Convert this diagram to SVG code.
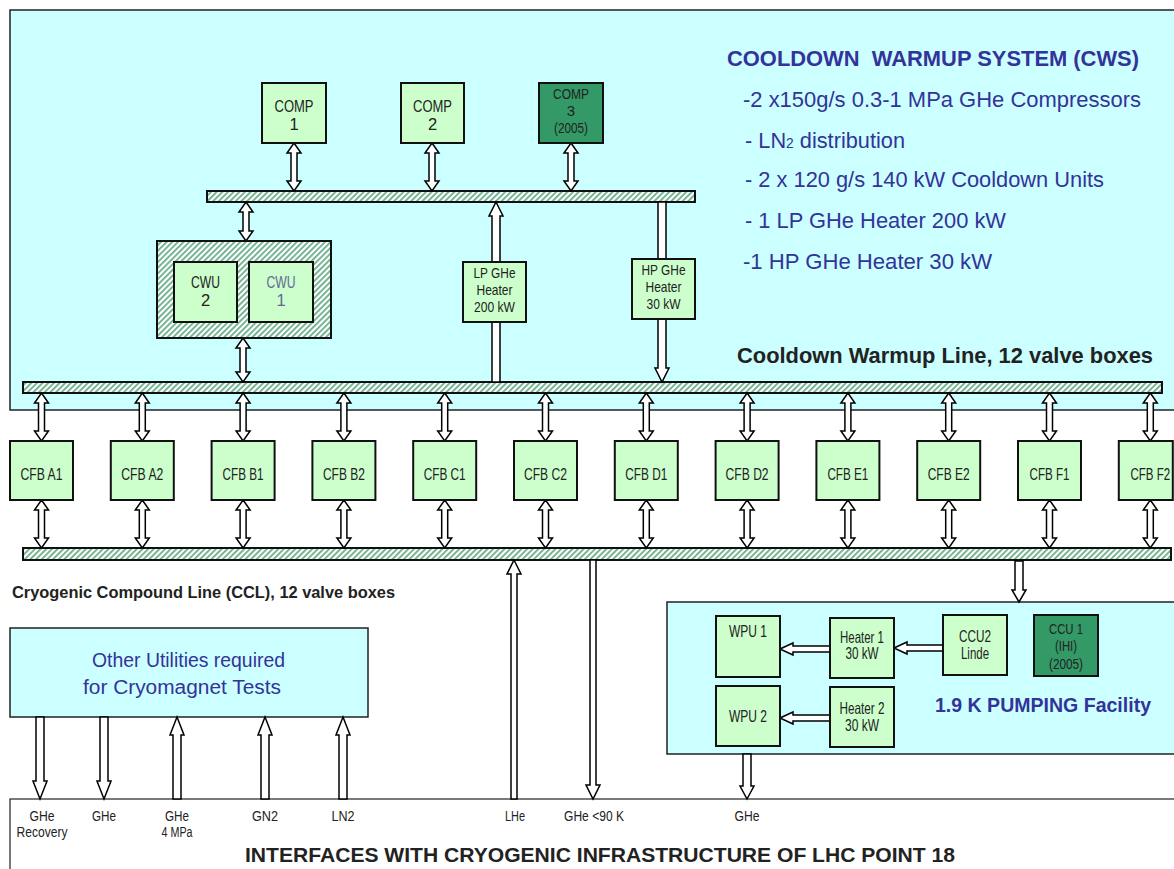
<svg xmlns="http://www.w3.org/2000/svg" xmlns:xlink="http://www.w3.org/1999/xlink" width="1174" height="869" viewBox="0 0 1174 869">
<style>
text{font-family:"Liberation Sans",Arial,sans-serif;fill:#222}
.lbl{font-size:16.5px;text-anchor:middle}
.sm{font-size:15px;text-anchor:middle}
.tiny{font-size:14px;text-anchor:middle}
.blue{fill:#333399}
.b{font-weight:bold}
.panel{fill:#CCFFFF;stroke:#222;stroke-width:1.5}
.box{fill:#CCFFCC;stroke:#111;stroke-width:2}
.dark{fill:#339966;stroke:#111;stroke-width:2}
.bar{fill:url(#hatch);stroke:#111;stroke-width:2}
.arr{fill:#fff;stroke:#000;stroke-width:1.5;stroke-linejoin:miter}
</style>
<defs>
<pattern id="hatch" patternUnits="userSpaceOnUse" width="4" height="4" patternTransform="rotate(45)">
<rect width="4" height="4" fill="#fff"/>
<rect width="1.8" height="4" fill="#6AAE8A"/>
</pattern>
<polygon id="dbl48" class="arr" points="0,0 7,10 3,10 3,38 7,38 0,48 -7,38 -3,38 -3,10 -7,10"/>
</defs>

<!-- panels -->
<rect id="cws-panel" class="panel" x="10" y="10" width="1180" height="400"/>
<rect id="pump-panel" class="panel" x="667" y="602" width="520" height="152"/>
<rect id="util-panel" class="panel" x="10" y="628" width="358" height="89"/>
<rect id="iface-panel" x="10" y="799" width="1180" height="80" fill="#fff" stroke="#222" stroke-width="1.2"/>

<!-- bars -->
<g id="bars">
<rect id="bar-comp" class="bar" x="207" y="191" width="488" height="11"/>
<rect id="bar-cwl" class="bar" x="23" y="382" width="1139" height="11"/>
<rect id="bar-ccl" class="bar" x="23" y="548" width="1148" height="12"/>
</g>

<!-- connectors -->
<g id="connectors">
<use xlink:href="#dbl48" x="294" y="143"/>
<use xlink:href="#dbl48" x="432" y="143"/>
<use xlink:href="#dbl48" x="571" y="143"/>
<polygon class="arr" points="246,202 253,212 249,212 249,231 253,231 246,241 239,231 243,231 243,212 239,212"/>
<polygon class="arr" points="243,338 250,348 246,348 246,372 250,372 243,382 236,372 240,372 240,348 236,348"/>
<polygon class="arr" points="496,202 503,216 500,216 500,382 492,382 492,216 489,216"/>
<polygon class="arr" points="658,202 666,202 666,368 669,368 662,382 655,368 658,368"/>
<use xlink:href="#dbl48" x="41.5" y="393"/>
<use xlink:href="#dbl48" x="142.3" y="393"/>
<use xlink:href="#dbl48" x="243.1" y="393"/>
<use xlink:href="#dbl48" x="343.9" y="393"/>
<use xlink:href="#dbl48" x="444.7" y="393"/>
<use xlink:href="#dbl48" x="545.5" y="393"/>
<use xlink:href="#dbl48" x="646.3" y="393"/>
<use xlink:href="#dbl48" x="747.1" y="393"/>
<use xlink:href="#dbl48" x="847.9" y="393"/>
<use xlink:href="#dbl48" x="948.7" y="393"/>
<use xlink:href="#dbl48" x="1049.5" y="393"/>
<use xlink:href="#dbl48" x="1150.3" y="393"/>
<use xlink:href="#dbl48" x="41.5" y="500"/>
<use xlink:href="#dbl48" x="142.3" y="500"/>
<use xlink:href="#dbl48" x="243.1" y="500"/>
<use xlink:href="#dbl48" x="343.9" y="500"/>
<use xlink:href="#dbl48" x="444.7" y="500"/>
<use xlink:href="#dbl48" x="545.5" y="500"/>
<use xlink:href="#dbl48" x="646.3" y="500"/>
<use xlink:href="#dbl48" x="747.1" y="500"/>
<use xlink:href="#dbl48" x="847.9" y="500"/>
<use xlink:href="#dbl48" x="948.7" y="500"/>
<use xlink:href="#dbl48" x="1049.5" y="500"/>
<use xlink:href="#dbl48" x="1150.3" y="500"/>
<polygon class="arr" points="1015,561 1023,561 1023,590 1026,590 1019,602 1012,590 1015,590"/>
<polygon class="arr" points="514,560 521,574 517,574 517,799 511,799 511,574 507,574"/>
<polygon class="arr" points="590,560 596,560 596,785 600,785 593,799 586,785 590,785"/>
<polygon class="arr" points="743,754 751,754 751,786 754,786 747,799 740,786 743,786"/>
<polygon class="arr" points="36,717 44,717 44,781 47,781 40,799 33,781 36,781"/>
<polygon class="arr" points="100,717 108,717 108,781 111,781 104,799 97,781 100,781"/>
<polygon class="arr" points="177,717 184,735 181,735 181,799 173,799 173,735 170,735"/>
<polygon class="arr" points="265,717 272,735 269,735 269,799 261,799 261,735 258,735"/>
<polygon class="arr" points="343,717 350,735 347,735 347,799 339,799 339,735 336,735"/>
<polygon class="arr" points="780,649 793,643 793,646 830,646 830,652 793,652 793,655"/>
<polygon class="arr" points="894,648 907,642 907,645 943,645 943,651 907,651 907,654"/>
<polygon class="arr" points="780,718 793,712 793,715 830,715 830,721 793,721 793,724"/>
</g>

<!-- compressors -->
<g id="comp1"><rect class="box" x="262" y="83" width="64" height="60"/><text class="lbl" x="294" y="112" textLength="39" lengthAdjust="spacingAndGlyphs">COMP</text><text class="lbl" x="294" y="130">1</text></g>
<g id="comp2"><rect class="box" x="401" y="83" width="63" height="60"/><text class="lbl" x="432.5" y="112" textLength="39" lengthAdjust="spacingAndGlyphs">COMP</text><text class="lbl" x="432.5" y="130">2</text></g>
<g id="comp3"><rect class="dark" x="539" y="83" width="64" height="60"/><text class="sm" x="571" y="99" textLength="36" lengthAdjust="spacingAndGlyphs">COMP</text><text class="sm" x="571" y="116">3</text><text class="sm" x="571" y="133" textLength="34" lengthAdjust="spacingAndGlyphs">(2005)</text></g>

<!-- cooldown units -->
<g id="cwu-group"><rect class="bar" x="157" y="241" width="174" height="97"/></g>
<g id="cwu2"><rect class="box" x="174" y="262" width="63" height="60"/><text class="lbl" x="205.5" y="288" textLength="29" lengthAdjust="spacingAndGlyphs">CWU</text><text class="lbl" x="205.5" y="306">2</text></g>
<g id="cwu1"><rect class="box" x="249" y="262" width="64" height="60"/><text class="lbl" x="281" y="288" style="fill:#666699" textLength="29" lengthAdjust="spacingAndGlyphs">CWU</text><text class="lbl" x="281" y="306" style="fill:#666699">1</text></g>

<!-- heaters -->
<g id="lp-heater"><rect class="box" x="463" y="262" width="63" height="60"/><text class="sm" x="494.5" y="278" textLength="42" lengthAdjust="spacingAndGlyphs">LP GHe</text><text class="sm" x="494.5" y="295" textLength="36" lengthAdjust="spacingAndGlyphs">Heater</text><text class="sm" x="494.5" y="312" textLength="41" lengthAdjust="spacingAndGlyphs">200 kW</text></g>
<g id="hp-heater"><rect class="box" x="632" y="259" width="63" height="60"/><text class="sm" x="663.5" y="275" textLength="44" lengthAdjust="spacingAndGlyphs">HP GHe</text><text class="sm" x="663.5" y="292" textLength="36" lengthAdjust="spacingAndGlyphs">Heater</text><text class="sm" x="663.5" y="309" textLength="34" lengthAdjust="spacingAndGlyphs">30 kW</text></g>

<!-- CFBs -->
<g id="cfb-a1"><rect class="box" x="10" y="441" width="63" height="59"/><text class="lbl" x="41.5" y="480" textLength="42" lengthAdjust="spacingAndGlyphs">CFB A1</text></g>
<g id="cfb-a2"><rect class="box" x="110.8" y="441" width="63" height="59"/><text class="lbl" x="142.3" y="480" textLength="42" lengthAdjust="spacingAndGlyphs">CFB A2</text></g>
<g id="cfb-b1"><rect class="box" x="211.6" y="441" width="63" height="59"/><text class="lbl" x="243.1" y="480" textLength="41" lengthAdjust="spacingAndGlyphs">CFB B1</text></g>
<g id="cfb-b2"><rect class="box" x="312.4" y="441" width="63" height="59"/><text class="lbl" x="343.9" y="480" textLength="42" lengthAdjust="spacingAndGlyphs">CFB B2</text></g>
<g id="cfb-c1"><rect class="box" x="413.2" y="441" width="63" height="59"/><text class="lbl" x="444.7" y="480" textLength="42" lengthAdjust="spacingAndGlyphs">CFB C1</text></g>
<g id="cfb-c2"><rect class="box" x="514" y="441" width="63" height="59"/><text class="lbl" x="545.5" y="480" textLength="43" lengthAdjust="spacingAndGlyphs">CFB C2</text></g>
<g id="cfb-d1"><rect class="box" x="614.8" y="441" width="63" height="59"/><text class="lbl" x="646.3" y="480" textLength="42" lengthAdjust="spacingAndGlyphs">CFB D1</text></g>
<g id="cfb-d2"><rect class="box" x="715.6" y="441" width="63" height="59"/><text class="lbl" x="747.1" y="480" textLength="43" lengthAdjust="spacingAndGlyphs">CFB D2</text></g>
<g id="cfb-e1"><rect class="box" x="816.4" y="441" width="63" height="59"/><text class="lbl" x="847.9" y="480" textLength="41" lengthAdjust="spacingAndGlyphs">CFB E1</text></g>
<g id="cfb-e2"><rect class="box" x="917.2" y="441" width="63" height="59"/><text class="lbl" x="948.7" y="480" textLength="42" lengthAdjust="spacingAndGlyphs">CFB E2</text></g>
<g id="cfb-f1"><rect class="box" x="1018" y="441" width="63" height="59"/><text class="lbl" x="1049.5" y="480" textLength="40" lengthAdjust="spacingAndGlyphs">CFB F1</text></g>
<g id="cfb-f2"><rect class="box" x="1118.8" y="441" width="54" height="59"/><text class="lbl" transform="translate(1150.3,480) scale(0.7,1)" x="0" y="0">CFB F2</text></g>

<!-- pumping facility -->
<g id="wpu1"><rect class="box" x="716" y="616" width="64" height="61"/><text class="lbl" x="748" y="637" textLength="38" lengthAdjust="spacingAndGlyphs">WPU 1</text></g>
<g id="heater1"><rect class="box" x="830" y="618" width="64" height="60"/><text class="lbl" x="862" y="643" textLength="44" lengthAdjust="spacingAndGlyphs">Heater 1</text><text class="lbl" x="862" y="659" textLength="33" lengthAdjust="spacingAndGlyphs">30 kW</text></g>
<g id="ccu2"><rect class="box" x="943" y="615" width="64" height="60"/><text class="lbl" x="975" y="642" textLength="32" lengthAdjust="spacingAndGlyphs">CCU2</text><text class="lbl" x="975" y="659" textLength="28" lengthAdjust="spacingAndGlyphs">Linde</text></g>
<g id="ccu1"><rect class="dark" x="1034" y="615" width="64" height="61"/><text class="sm" x="1066" y="634" textLength="34" lengthAdjust="spacingAndGlyphs">CCU 1</text><text class="sm" x="1066" y="651" textLength="22" lengthAdjust="spacingAndGlyphs">(IHI)</text><text class="sm" x="1066" y="669" textLength="34" lengthAdjust="spacingAndGlyphs">(2005)</text></g>
<g id="wpu2"><rect class="box" x="716" y="686" width="64" height="60"/><text class="lbl" x="748" y="722" textLength="38" lengthAdjust="spacingAndGlyphs">WPU 2</text></g>
<g id="heater2"><rect class="box" x="830" y="687" width="64" height="60"/><text class="lbl" x="862" y="714" textLength="45" lengthAdjust="spacingAndGlyphs">Heater 2</text><text class="lbl" x="862" y="731" textLength="34" lengthAdjust="spacingAndGlyphs">30 kW</text></g>

<!-- texts -->
<g id="cws-text">
<text class="b blue" x="727" y="66" font-size="22" textLength="412" lengthAdjust="spacingAndGlyphs" xml:space="preserve">COOLDOWN  WARMUP SYSTEM (CWS)</text>
<text class="blue" x="743" y="107" font-size="22" textLength="398" lengthAdjust="spacingAndGlyphs">-2 x150g/s 0.3-1 MPa GHe Compressors</text>
<text class="blue" x="745" y="148" font-size="22" textLength="160" lengthAdjust="spacingAndGlyphs" xml:space="preserve">- LN<tspan font-size="14">2</tspan> distribution</text>
<text class="blue" x="745" y="187" font-size="22" textLength="359" lengthAdjust="spacingAndGlyphs">- 2 x 120 g/s 140 kW Cooldown Units</text>
<text class="blue" x="745" y="228" font-size="22" textLength="261" lengthAdjust="spacingAndGlyphs">- 1 LP GHe Heater 200 kW</text>
<text class="blue" x="743" y="269" font-size="22" textLength="249" lengthAdjust="spacingAndGlyphs">-1 HP GHe Heater 30 kW</text>
</g>
<text class="b" x="737" y="363" font-size="22" textLength="416" lengthAdjust="spacingAndGlyphs">Cooldown Warmup Line, 12 valve boxes</text>
<text class="b" x="12" y="598" font-size="16" textLength="383" lengthAdjust="spacingAndGlyphs">Cryogenic Compound Line (CCL), 12 valve boxes</text>
<text class="b blue" x="935" y="712" font-size="20" textLength="216" lengthAdjust="spacingAndGlyphs">1.9 K PUMPING Facility</text>
<text class="blue" x="92" y="667" font-size="20" textLength="193" lengthAdjust="spacingAndGlyphs">Other Utilities required</text>
<text class="blue" x="83" y="694" font-size="20" textLength="198" lengthAdjust="spacingAndGlyphs">for Cryomagnet Tests</text>

<g id="iface-labels">
<text class="tiny" x="42" y="821" textLength="25" lengthAdjust="spacingAndGlyphs">GHe</text><text class="tiny" x="42" y="837" textLength="51" lengthAdjust="spacingAndGlyphs">Recovery</text>
<text class="tiny" x="104" y="821" textLength="24" lengthAdjust="spacingAndGlyphs">GHe</text>
<text class="tiny" x="177" y="821" textLength="24" lengthAdjust="spacingAndGlyphs">GHe</text><text class="tiny" x="177" y="837" textLength="31" lengthAdjust="spacingAndGlyphs">4 MPa</text>
<text class="tiny" x="265" y="821" textLength="26" lengthAdjust="spacingAndGlyphs">GN2</text>
<text class="tiny" x="343" y="821" textLength="23" lengthAdjust="spacingAndGlyphs">LN2</text>
<text class="tiny" x="515" y="821" textLength="20" lengthAdjust="spacingAndGlyphs">LHe</text>
<text class="tiny" x="594" y="821" textLength="60" lengthAdjust="spacingAndGlyphs">GHe &lt;90 K</text>
<text class="tiny" x="747" y="821" textLength="25" lengthAdjust="spacingAndGlyphs">GHe</text>
</g>
<text class="b" x="245" y="862" font-size="21" textLength="710" lengthAdjust="spacingAndGlyphs">INTERFACES WITH CRYOGENIC INFRASTRUCTURE OF LHC POINT 18</text>
</svg>
